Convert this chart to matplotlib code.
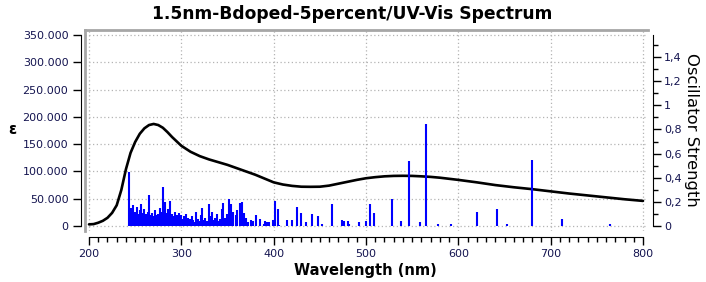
import matplotlib

matplotlib.use("Agg")
import matplotlib.pyplot as plt  # noqa: E402
from matplotlib.ticker import FuncFormatter, MultipleLocator  # noqa: E402

# broadened absorption curve (nm, epsilon)
curve_nm = [200, 205, 210, 215, 220, 225, 230, 235, 240, 245, 250, 255, 260, 265,
            270, 275, 280, 285, 290, 295, 300, 310, 320, 330, 340, 350, 360, 370,
            380, 390, 400, 410, 420, 430, 440, 450, 460, 470, 480, 490, 500, 510,
            520, 530, 540, 550, 560, 570, 580, 590, 600, 620, 640, 660, 680, 700,
            720, 740, 760, 780, 800]
curve_eps = [3000, 3500, 6000, 9500, 15000, 24000, 38000, 66000, 104000, 134000,
             154000, 169000, 179000, 185000, 187000, 185000, 180000, 172000,
             163000, 155000, 147000, 136000, 128000, 122000, 117000, 112000,
             106000, 100000, 94000, 87000, 80000, 76000, 73500, 72000, 71800,
             72000, 74000, 77500, 81000, 84500, 87500, 89500, 91000, 91800,
             92000, 91800, 91000, 90000, 88500, 86500, 84500, 80000, 75000,
             71000, 67500, 63500, 59500, 56000, 52500, 49000, 46000]

# excited states (nm, oscillator strength)
state_nm = [243, 245, 246, 247, 248, 249, 250, 251, 252, 253, 254, 255, 256, 257,
            258, 259, 260, 261, 262, 263, 264, 265, 266, 267, 268, 269, 270, 271,
            272, 273, 274, 275, 276, 277, 278, 279, 280, 281, 282, 283, 284, 285,
            286, 287, 288, 289, 290, 291, 292, 293, 294, 295, 296, 297, 298, 299,
            300, 301, 302, 303, 304, 305, 306, 307, 308, 309, 310, 312, 313, 315,
            316, 318, 319, 321, 322, 324, 326, 328, 330, 331, 333, 335, 337, 339,
            340, 342, 344, 345, 347, 349, 350, 352,
            354, 356, 359, 360, 363, 366, 368, 370, 372, 375, 378, 380.5, 385,
            389, 390.7, 393, 395, 399, 401, 404.5, 406, 414, 419.6, 425, 429.4,
            435, 442, 447.7, 452, 463, 473.8, 476, 480, 482, 492, 500, 504,
            508.5, 528, 537.7, 546.5, 558.6, 564.5, 577.8, 592, 620, 641.7,
            652.5, 680, 712.5, 764.5]
state_f = [0.45, 0.08, 0.15, 0.10, 0.17, 0.09, 0.12, 0.06, 0.16, 0.10, 0.07, 0.13,
           0.18, 0.09, 0.11, 0.06, 0.14, 0.08, 0.10, 0.05, 0.12, 0.26, 0.09, 0.07,
           0.11, 0.05, 0.08, 0.13, 0.06, 0.09, 0.04, 0.10, 0.07, 0.15, 0.05, 0.12,
           0.32, 0.08, 0.20, 0.06, 0.11, 0.09, 0.14, 0.05, 0.21, 0.07, 0.10, 0.04,
           0.08, 0.12, 0.06, 0.09, 0.05, 0.11, 0.07, 0.04, 0.09, 0.06, 0.03, 0.08,
           0.05, 0.10, 0.04, 0.07, 0.03, 0.06, 0.04, 0.08, 0.05, 0.03, 0.12, 0.06,
           0.04, 0.09, 0.15, 0.05, 0.07, 0.04, 0.18, 0.08, 0.12, 0.05, 0.07, 0.10,
           0.04, 0.06, 0.14, 0.19, 0.07, 0.10, 0.06, 0.22,
           0.18, 0.12, 0.09, 0.13, 0.19, 0.20, 0.11, 0.066, 0.03, 0.05, 0.04,
           0.09, 0.06, 0.02, 0.04, 0.035, 0.03, 0.05, 0.207, 0.14, 0.01, 0.05,
           0.05, 0.157, 0.107, 0.03, 0.10, 0.08, 0.013, 0.18, 0.05, 0.045, 0.04,
           0.02, 0.03, 0.04, 0.18, 0.107, 0.22, 0.04, 0.54, 0.03, 0.845, 0.02,
           0.02, 0.116, 0.14, 0.015, 0.547, 0.058, 0.015]

TITLE = "1.5nm-Bdoped-5percent/UV-Vis Spectrum"
W, H = 706, 282
LABEL_COLOR = "#141450"
FRAME_COLOR = "#a6a6a6"


def eps_fmt(v, _pos):
    return f"{int(round(v)):,}".replace(",", ".")


def osc_fmt(v, _pos):
    s = f"{v:.1f}".rstrip("0").rstrip(".")
    return s.replace(".", ",")


def main() -> None:
    fig = plt.figure(figsize=(W / 100, H / 100), dpi=100)
    left, right, top, bottom = 85, 648, 30, 231
    ax = fig.add_axes([left / W, (H - bottom) / H, (right - left) / W, (bottom - top) / H])
    ax2 = ax.twinx()

    px_eps = 350000 / (226 - 35)
    ax.set_ylim(-(bottom - 226) * px_eps, (226 - top) * px_eps)
    px_nm = 600 / (643 - 89)
    ax.set_xlim(200 - (89 - left) * px_nm, 800 + (right - 643) * px_nm)
    px_f = 1.4 / (226 - 57)
    ax2.set_ylim(-(bottom - 226) * px_f, (226 - top) * px_f)

    ax.plot(curve_nm, curve_eps, color="black", lw=1.9, solid_capstyle="round")
    ax2.vlines(state_nm, 0, state_f, color="#0000ff", lw=1.5)

    # frame and spines
    ax.spines["right"].set_visible(False)
    ax.spines["top"].set_color(FRAME_COLOR)
    ax.spines["top"].set_linewidth(2)
    ax.spines["left"].set_position(("outward", 3))
    ax.spines["left"].set_bounds(0, 350000)
    ax.spines["bottom"].set_position(("outward", 4))
    ax.spines["bottom"].set_bounds(200, 800)
    for s in ("top", "bottom"):
        ax2.spines[s].set_visible(False)
    ax2.spines["left"].set_color(FRAME_COLOR)
    ax2.spines["left"].set_linewidth(2)
    ax2.spines["right"].set_position(("outward", 3.5))
    ax2.spines["right"].set_bounds(0, 1.58)

    ax.xaxis.set_major_locator(MultipleLocator(100))
    ax.xaxis.set_minor_locator(MultipleLocator(10))
    ax.yaxis.set_major_locator(MultipleLocator(50000))
    ax.yaxis.set_major_formatter(FuncFormatter(eps_fmt))
    ax2.yaxis.set_major_formatter(FuncFormatter(osc_fmt))
    ax2.set_yticks([i / 5 for i in range(8)])
    ax2.set_yticks([i / 10 for i in range(16)], minor=True)

    ax.tick_params(axis="x", which="major", length=6, width=1, labelsize=8,
                   labelcolor=LABEL_COLOR, pad=3)
    ax.tick_params(axis="x", which="minor", length=3.5, width=1)
    ax.tick_params(axis="y", which="major", length=6, width=1, labelsize=8,
                   labelcolor=LABEL_COLOR, pad=3)
    ax2.tick_params(axis="y", which="major", length=6, width=1, labelsize=8,
                    labelcolor=LABEL_COLOR, pad=2)
    ax2.tick_params(axis="y", which="minor", length=3.5, width=1)

    ax.grid(True, which="major", color="#b4b4b4", linestyle=(0, (1, 2)), lw=0.9)
    ax.set_axisbelow(True)

    fig.text(352 / W, 1 - 14 / H, TITLE, ha="center", va="center",
             fontsize=12.3, fontweight="bold")
    fig.text(365 / W, 1 - 270 / H, "Wavelength (nm)", ha="center", va="center",
             fontsize=10.5, fontweight="bold")
    fig.text(12 / W, 1 - 130 / H, "ε", ha="center", va="center",
             fontsize=10.5, fontweight="bold")
    fig.text(691 / W, 1 - 130 / H, "Oscillator Strength", ha="center", va="center",
             fontsize=11.8, rotation=-90)

    fig.savefig("out.png", dpi=100)
    plt.close(fig)


if __name__ == "__main__":
    main()
